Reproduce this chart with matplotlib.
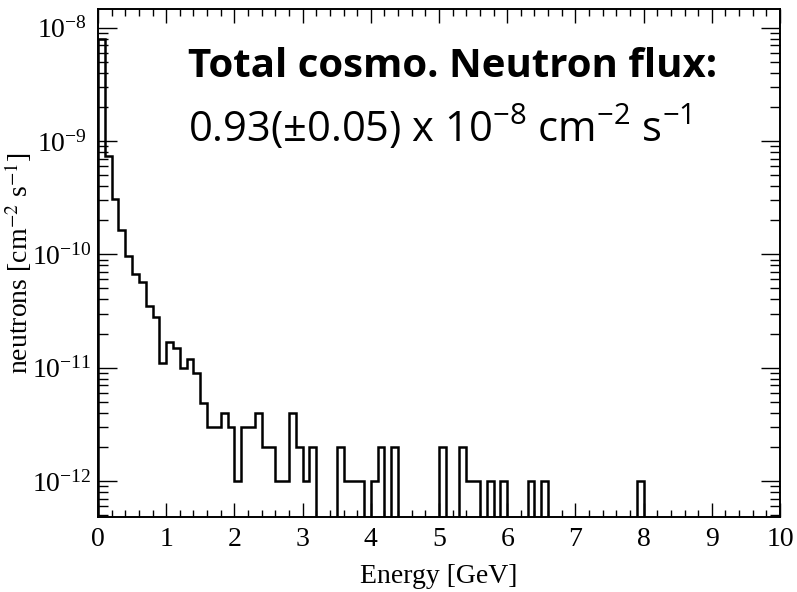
import numpy as np
import matplotlib
matplotlib.use("Agg")
import matplotlib.pyplot as plt

# cosmogenic neutron spectrum, 0.1 GeV bins from 0 to 10 GeV
bin_edges = np.linspace(0.0, 10.0, 101)
flux = np.zeros(100)
flux[:16] = [7.9e-9, 7.4e-10, 3.1e-10, 1.65e-10, 9.7e-11, 6.7e-11, 5.75e-11, 3.5e-11,
             2.8e-11, 1.1e-11, 1.69e-11, 1.49e-11, 9.9e-12, 1.19e-11, 8.9e-12, 4.9e-12]
flux[16:32] = [3e-12, 3e-12, 4e-12, 3e-12, 1e-12, 3e-12, 3e-12, 4e-12,
               2e-12, 2e-12, 1e-12, 1e-12, 4e-12, 2e-12, 1e-12, 2e-12]
sparse_bins = [35, 36, 37, 38, 40, 41, 43, 50, 53, 54, 55, 57, 59, 63, 65, 79]
sparse_vals = [2e-12, 1e-12, 1e-12, 1e-12, 1e-12, 2e-12, 2e-12, 2e-12, 2e-12,
               1e-12, 1e-12, 1e-12, 1e-12, 1e-12, 1e-12, 1e-12]
flux[sparse_bins] = sparse_vals

x_ticks = list(range(0, 11))
y_ticks = [1e-12, 1e-11, 1e-10, 1e-9, 1e-8]
y_range = (4.82e-13, 1.46e-8)

plt.rcParams["font.family"] = ["Liberation Serif", "DejaVu Serif"]
plt.rcParams["mathtext.fontset"] = "stix"
plt.rcParams["mathtext.rm"] = "Open Sans"
plt.rcParams["mathtext.it"] = "Open Sans:italic"
plt.rcParams["mathtext.bf"] = "Open Sans:bold"

fig = plt.figure(figsize=(7.97, 5.92), dpi=100)
ax = fig.add_axes([98 / 797, 1 - 517 / 592, 682 / 797, 508 / 592])

ax.stairs(flux, bin_edges, color="black", linewidth=1.8)
ax.set_yscale("log")
ax.set_xlim(0, 10)
ax.set_ylim(*y_range)
ax.set_xticks(x_ticks)
ax.set_xticks(np.arange(0, 10.01, 0.2), minor=True)
ax.set_yticks(y_ticks)

for side in ax.spines.values():
    side.set_linewidth(1.4)

ax.tick_params(axis="both", which="both", direction="in", top=True, right=True,
               labelsize=20, width=1.0)
ax.tick_params(axis="x", which="major", length=10, pad=7)
ax.tick_params(axis="x", which="minor", length=5)
ax.tick_params(axis="y", which="major", length=14, pad=26)
ax.tick_params(axis="y", which="minor", length=7)
# ROOT centres the log labels under each other
plt.setp(ax.get_yticklabels(), ha="center")

ax.set_xlabel("Energy [GeV]", fontsize=20, labelpad=9)
ax.set_ylabel("neutrons [cm$^{-2}$ s$^{-1}$]", fontsize=20)
ax.yaxis.set_label_coords(-0.094, 0.5)

fig.text(188 / 797, 1 - 77 / 592, "Total cosmo. Neutron flux:",
         family=["Open Sans", "DejaVu Sans"], weight="bold", fontsize=29, va="baseline")
fig.text(188 / 797, 1 - 142 / 592, "0.93(\u00b10.05) x 10$^{-8}$ cm$^{-2}$ s$^{-1}$",
         family=["Open Sans", "DejaVu Sans"], fontsize=30, va="baseline",
         math_fontfamily="custom")

fig.savefig("out.png", dpi=100)
